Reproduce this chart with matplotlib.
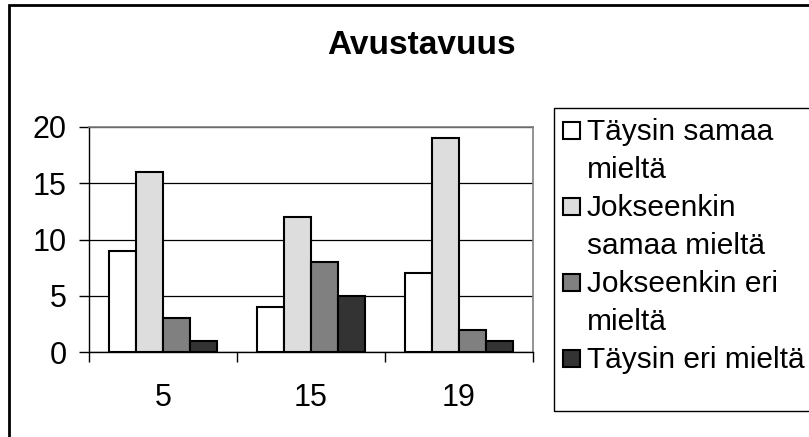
import matplotlib.pyplot as plt
import matplotlib.patches as mpatches
import numpy as np

plt.rcParams['font.family'] = ['Liberation Sans', 'DejaVu Sans']

# data
groups = ['5', '15', '19']
series = ['Täysin samaa\nmieltä', 'Jokseenkin\nsamaa mieltä',
          'Jokseenkin eri\nmieltä', 'Täysin eri mieltä']
values = [
    [9, 4, 7],
    [16, 12, 19],
    [3, 8, 2],
    [1, 5, 1],
]
colors = ['#ffffff', '#dddddd', '#808080', '#333333']

W, H = 809, 437
fig = plt.figure(figsize=(W / 100, H / 100), dpi=100)
ax = fig.add_axes([89 / W, 1 - 352 / H, (533 - 89) / W, (352 - 127) / H])

x = np.arange(len(groups))
bw = 1 / 5.5
for i, (vals, c) in enumerate(zip(values, colors)):
    ax.bar(x + (i - 1.5) * bw, vals, bw, color=c, edgecolor='black',
           linewidth=1.5, zorder=3)

ax.set_xlim(-0.5, len(groups) - 0.5)
ax.set_ylim(0, 20)
ax.set_yticks(range(0, 21, 5))
ax.yaxis.grid(True, color='black', linewidth=0.9)
ax.set_axisbelow(True)
ax.set_xticks(x)
ax.set_xticklabels(groups)
ax.set_xticks(np.arange(-0.5, len(groups)), minor=True)
ax.tick_params(axis='x', which='major', length=0, pad=22, labelsize=22)
ax.tick_params(axis='x', which='minor', length=7, width=1, direction='out')
ax.tick_params(axis='y', length=7, width=1, direction='out', pad=9,
               labelsize=22)
for s in ['top', 'right']:
    ax.spines[s].set_color('#808080')
    ax.spines[s].set_linewidth(1.2)
for s in ['left', 'bottom']:
    ax.spines[s].set_color('black')
    ax.spines[s].set_linewidth(1)

fig.text(421 / W, 1 - 45 / H, 'Avustavuus', ha='center', va='center',
         fontsize=24, fontweight='bold')

# outer chart border
fig.patches.append(mpatches.Rectangle((9 / W, -0.1), 1.2, 1 - 5 / H + 0.1,
                                      transform=fig.transFigure, fill=False,
                                      edgecolor='black', linewidth=2))

# legend box
fig.patches.append(mpatches.Rectangle((554 / W, 1 - 411 / H), 1.0, (411 - 108) / H,
                                      transform=fig.transFigure, fill=False,
                                      edgecolor='black', linewidth=1))
line = 0
for lab, c in zip(series, colors):
    base = 140 + 38 * line
    fig.patches.append(mpatches.Rectangle((563 / W, 1 - (base - 1) / H), 17 / W, 17 / H,
                                          transform=fig.transFigure,
                                          facecolor=c, edgecolor='black',
                                          linewidth=1.5))
    for part in lab.split('\n'):
        fig.text(587 / W, 1 - (140 + 38 * line) / H, part, ha='left',
                 va='baseline', fontsize=21.5)
        line += 1

fig.savefig('out.png', dpi=100)
